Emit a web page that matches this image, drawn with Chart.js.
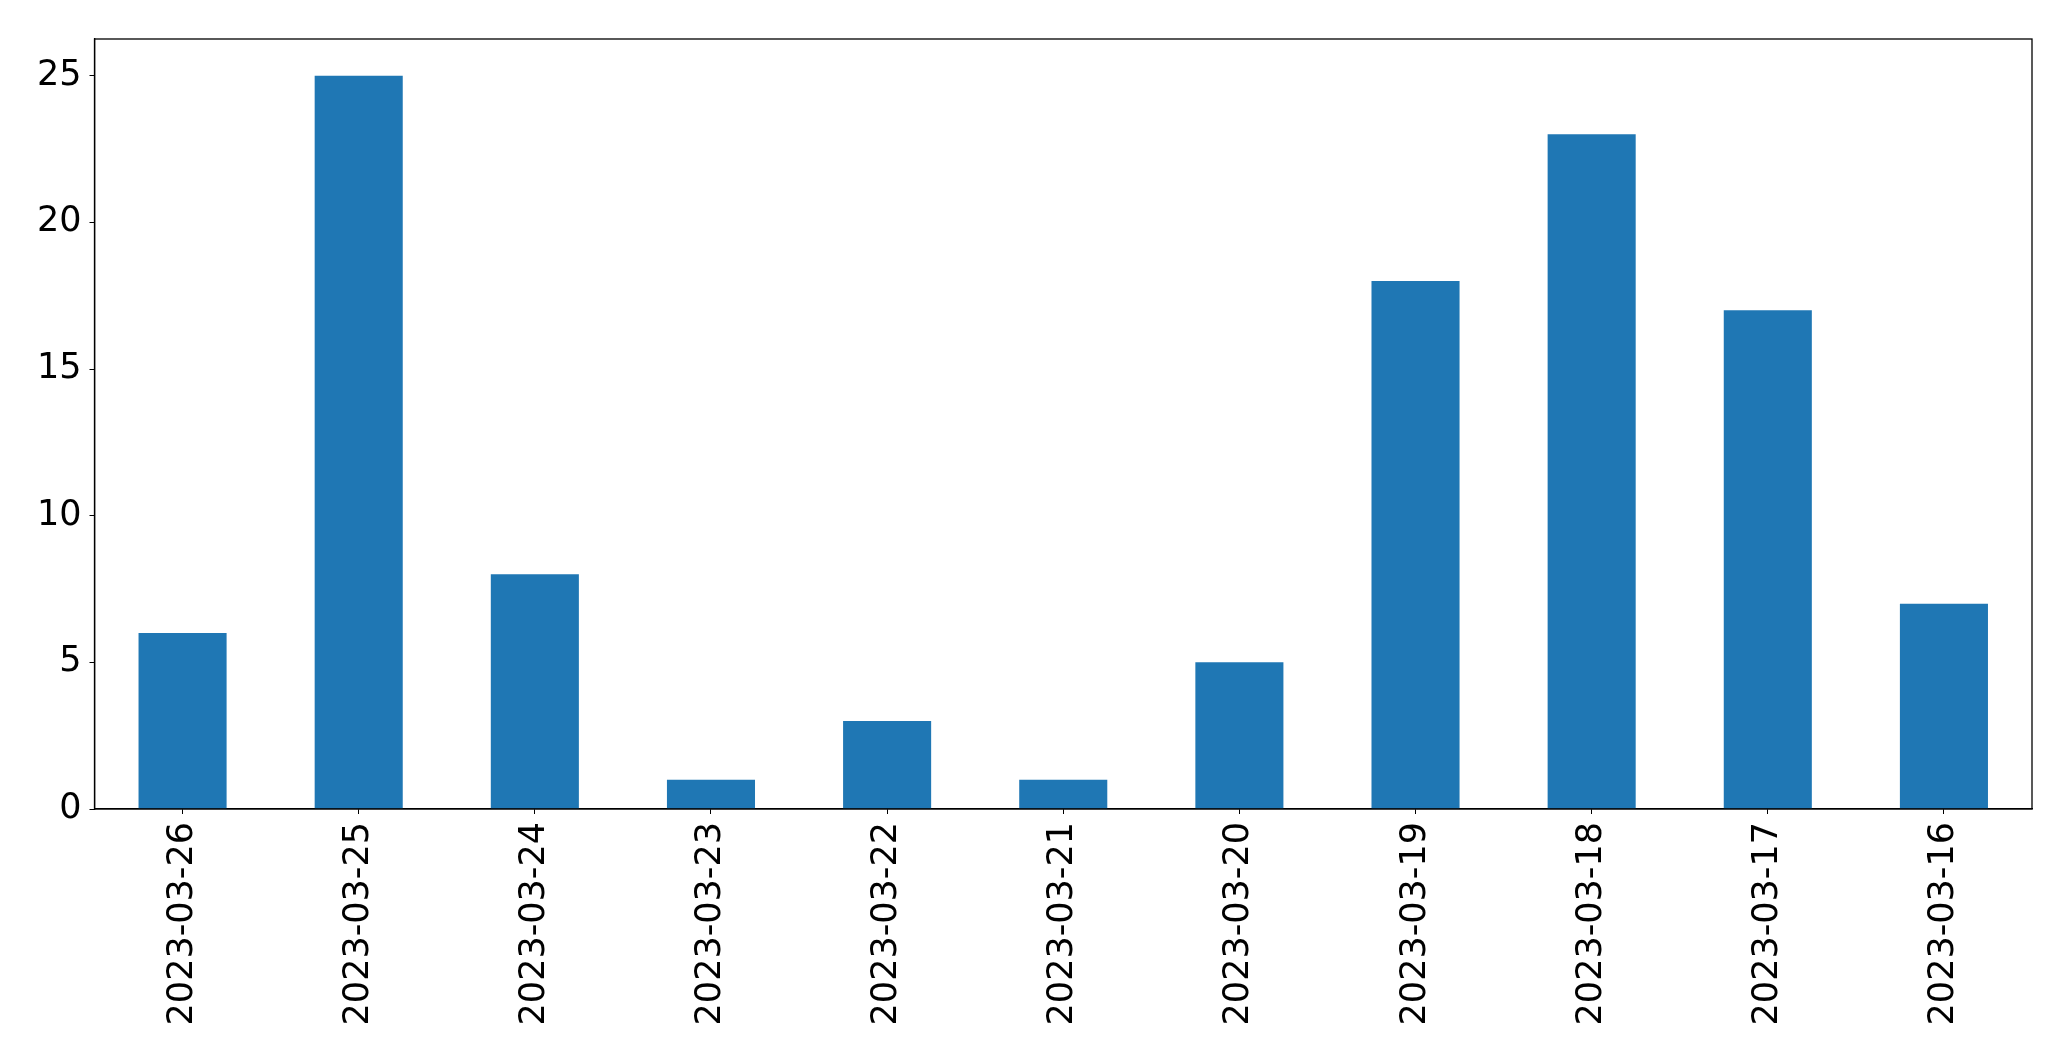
<!DOCTYPE html>
<html>
<head>
<meta charset="utf-8">
<script src="https://cdn.jsdelivr.net/npm/chart.js@4/dist/chart.umd.min.js"></script>
<style>
  html, body { margin: 0; padding: 0; background: #fff; }
  #wrap { width: 2071px; height: 1061px; }
</style>
</head>
<body>
<div id="wrap"><canvas id="grafico" width="2071" height="1061"></canvas></div>
<script>
// Datas (ordem decrescente, como no original)
const datas = ['2023-03-26', '2023-03-25', '2023-03-24', '2023-03-23', '2023-03-22', '2023-03-21',
               '2023-03-20', '2023-03-19', '2023-03-18', '2023-03-17', '2023-03-16'];
const contagens = [6, 25, 8, 1, 3, 1, 5, 18, 23, 17, 7];
const ticksY = [0, 5, 10, 15, 20, 25];

const fonte = { family: '"DejaVu Sans", sans-serif', size: 35 };

// moldura completa em volta da área do gráfico
const moldura = {
    id: 'moldura',
    afterDraw(chart) {
        const { ctx, chartArea: a } = chart;
        ctx.save();
        ctx.strokeStyle = '#000';
        ctx.lineWidth = 1.3;
        ctx.strokeRect(a.left, a.top, a.right - a.left, a.bottom - a.top);
        ctx.restore();
    }
};

new Chart(document.getElementById('grafico').getContext('2d'), {
    type: 'bar',
    data: {
        labels: datas,
        datasets: [{
            data: contagens,
            backgroundColor: '#1f77b4',
            borderWidth: 0,
            barPercentage: 0.5,
            categoryPercentage: 1.0
        }]
    },
    options: {
        responsive: false,
        animation: false,
        layout: { padding: { top: 39, right: 39, left: 0, bottom: 0 } },
        plugins: { legend: { display: false }, tooltip: { enabled: false } },
        scales: {
            x: {
                offset: true,
                grid: { display: true, drawOnChartArea: false, drawTicks: true, tickLength: 5, color: '#000', offset: false },
                border: { display: true, color: '#000', width: 1.3 },
                ticks: { color: '#000', font: fonte, minRotation: 90, maxRotation: 90, padding: 8, autoSkip: false },
                afterFit(s) { s.height = 252; }
            },
            y: {
                min: 0,
                max: 26.25,
                afterBuildTicks(s) { s.ticks = ticksY.map(v => ({ value: v })); },
                grid: { display: true, drawOnChartArea: false, drawTicks: true, tickLength: 5, color: '#000' },
                border: { display: true, color: '#000', width: 1.3 },
                ticks: { color: '#000', font: fonte, padding: 8 },
                afterFit(s) { s.width = 94.5; }
            }
        }
    },
    plugins: [moldura]
});
</script>
</body>
</html>
